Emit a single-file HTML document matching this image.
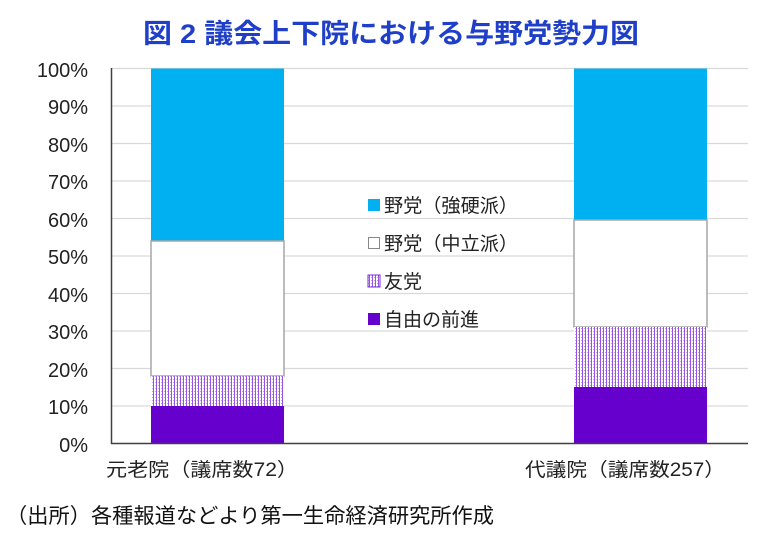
<!DOCTYPE html>
<html><head><meta charset="utf-8"><style>
body{margin:0;background:#fff;}
svg{display:block;font-family:"Liberation Sans","Noto Sans CJK JP",sans-serif;}
</style></head><body>
<svg width="774" height="542" viewBox="0 0 774 542" xmlns="http://www.w3.org/2000/svg">
<defs>
<pattern id="dots" width="3" height="3" patternUnits="userSpaceOnUse">
<rect width="3" height="3" fill="#ffffff"/>
<rect width="1" height="3" fill="#9a4fe6"/>
<rect x="2" y="1" width="1" height="1" fill="#c9a0f2"/>
</pattern>
</defs>
<text x="391" y="43" text-anchor="middle" font-size="27" font-weight="bold" fill="#1f3fc8" textLength="496" lengthAdjust="spacingAndGlyphs">図 2  議会上下院における与野党勢力図</text>
<g stroke="#d9d9d9" stroke-width="1.3">
<line x1="112" y1="68.5" x2="748" y2="68.5"/><line x1="112" y1="106" x2="748" y2="106"/>
<line x1="112" y1="143.5" x2="748" y2="143.5"/><line x1="112" y1="181" x2="748" y2="181"/>
<line x1="112" y1="218.5" x2="748" y2="218.5"/><line x1="112" y1="256" x2="748" y2="256"/>
<line x1="112" y1="293.5" x2="748" y2="293.5"/><line x1="112" y1="331" x2="748" y2="331"/>
<line x1="112" y1="368.5" x2="748" y2="368.5"/><line x1="112" y1="406" x2="748" y2="406"/>
</g>
<g font-size="20" fill="#222" text-anchor="end">
<text x="88" y="77">100%</text><text x="88" y="114">90%</text><text x="88" y="152">80%</text>
<text x="88" y="189">70%</text><text x="88" y="227">60%</text><text x="88" y="264">50%</text>
<text x="88" y="302">40%</text><text x="88" y="339">30%</text><text x="88" y="377">20%</text>
<text x="88" y="414">10%</text><text x="88" y="452">0%</text>
</g>
<rect x="151" y="68.5" width="133" height="172.5" fill="#00b0f0"/>
<rect x="151" y="241" width="133" height="135" fill="#fff" stroke="#a6a6a6" stroke-width="1.5"/>
<rect x="151" y="376" width="133" height="31" fill="url(#dots)"/>
<rect x="151" y="406" width="133" height="37.5" fill="#6600cc"/>
<rect x="574" y="68.5" width="133" height="151.5" fill="#00b0f0"/>
<rect x="574" y="220" width="133" height="107" fill="#fff" stroke="#a6a6a6" stroke-width="1.5"/>
<rect x="574" y="327" width="133" height="60" fill="url(#dots)"/>
<rect x="574" y="387" width="133" height="56.5" fill="#6600cc"/>
<line x1="111.5" y1="68" x2="111.5" y2="444" stroke="#404040" stroke-width="1.5"/>
<line x1="111" y1="443.5" x2="748" y2="443.5" stroke="#404040" stroke-width="1.5"/>
<g font-size="19" fill="#222">
<rect x="368" y="199" width="12" height="12" fill="#00b0f0"/><text x="384" y="212" textLength="134" lengthAdjust="spacingAndGlyphs">野党（強硬派）</text>
<rect x="368.5" y="237.5" width="11" height="11" fill="#fff" stroke="#888"/><text x="384" y="250" textLength="134" lengthAdjust="spacingAndGlyphs">野党（中立派）</text>
<rect x="368" y="275" width="12" height="12" fill="url(#dots)" stroke="#7a2ed8"/><text x="384" y="288">友党</text>
<rect x="368" y="313" width="12" height="12" fill="#6600cc"/><text x="384" y="326">自由の前進</text>
</g>
<g font-size="19" fill="#222" text-anchor="middle">
<text x="202" y="476" textLength="192" lengthAdjust="spacingAndGlyphs">元老院（議席数72）</text>
<text x="625" y="476" textLength="200" lengthAdjust="spacingAndGlyphs">代議院（議席数257）</text>
</g>
<text x="6" y="523" font-size="21" fill="#111" textLength="488" lengthAdjust="spacingAndGlyphs">（出所）各種報道などより第一生命経済研究所作成</text>
</svg>
</body></html>
